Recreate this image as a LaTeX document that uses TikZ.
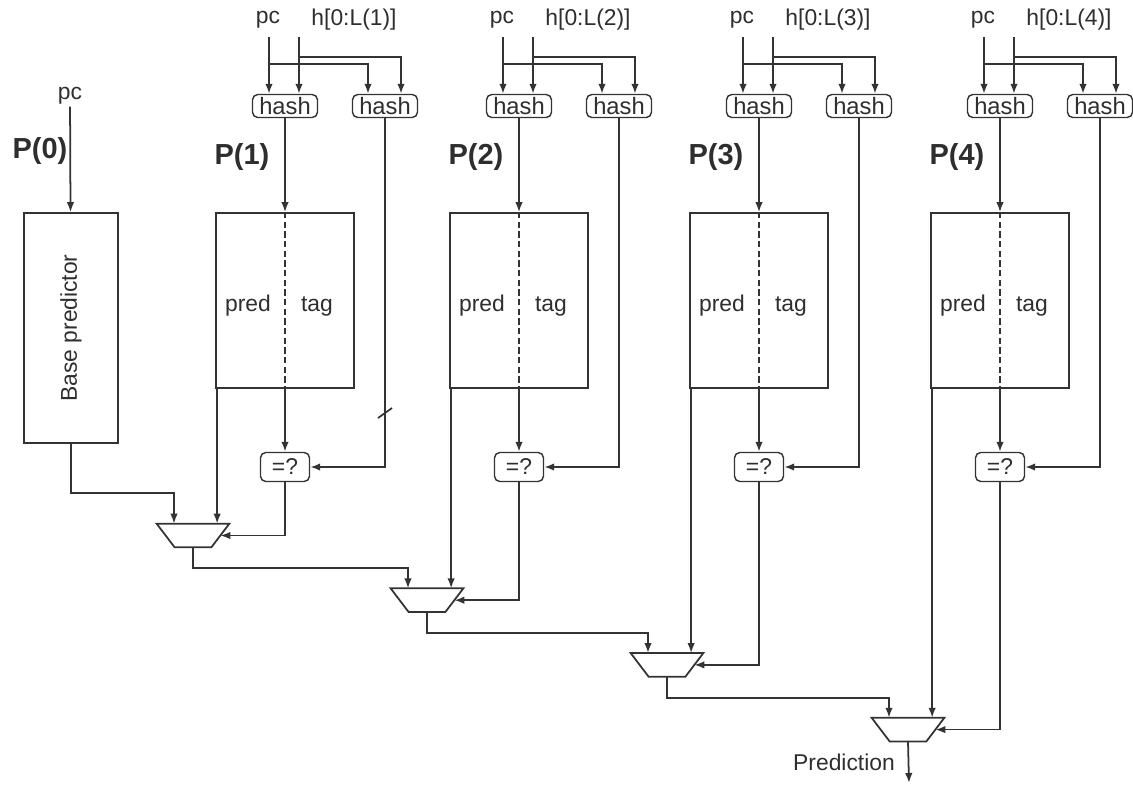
\documentclass[tikz,border=0pt]{standalone}
\usepackage{fontspec}
\setmainfont{Liberation Sans}
\usetikzlibrary{arrows.meta,positioning,calc}
\definecolor{ink}{HTML}{333333}
\definecolor{txt}{HTML}{2E2E2E}
\tikzset{
  wire/.style={draw=ink,line width=1pt},
  arr/.style={wire,-{Latex[length=2mm,width=1.5mm]}},
  tbl/.style={draw=ink,line width=1pt,minimum width=2.76cm,minimum height=3.5cm,inner sep=0pt},
  hashbox/.style={draw=ink,line width=0.8pt,rounded corners=3pt,minimum width=1.3cm,
    minimum height=0.46cm,inner sep=0pt,text=txt,font=\fontsize{13.5}{14}\selectfont},
  cmpbox/.style={hashbox,minimum width=0.98cm,minimum height=0.58cm,font=\fontsize{13}{13}\selectfont},
  mux/.style={minimum width=1.44cm,minimum height=0.46cm,inner sep=0pt},
  lbl/.style={text=txt,inner sep=1pt,font=\fontsize{13}{15}\selectfont},
  plbl/.style={text=txt,inner sep=0pt,font=\fontsize{16.5}{18}\selectfont\bfseries},
}
\begin{document}
\begin{tikzpicture}[x=0.02cm,y=-0.02cm]
\useasboundingbox (0,0) rectangle (1133,785);
% base predictor
\node[lbl] (pc0) at (70,96) {pc};
\node[plbl] (p0) at (40,151) {P(0)};
\node[tbl,minimum width=1.88cm,minimum height=4.6cm] (base) at (71,328) {};
\node[lbl,rotate=90] at (base) {Base predictor};
\draw[arr] (pc0) -- (base);

% tagged tables
\foreach \i/\cx in {1/285,2/519,3/759,4/1000}{
  \pgfmathsetmacro\my{535.5+64.7*(\i-1)}
  \node[lbl] (pc\i) at (\cx-17,20) {pc};
  \node[lbl] (hl\i) at (\cx+69,20) {h[0:L(\i)]};
  \node[hashbox] (ha\i) at (\cx,106) {hash};
  \node[hashbox] (hb\i) at (\cx+100,106) {hash};
  \node[plbl] (p\i) at (\cx-43,157) {P(\i)};
  \node[tbl] (tb\i) at (\cx,300.5) {};
  \node[lbl] at (\cx-37,306) {pred};
  \node[lbl] at (\cx+32,306) {tag};
  \node[cmpbox] (eq\i) at (\cx,467) {=?};
  \node[mux] (mx\i) at (\cx-92,\my) {};
  \draw[wire] (mx\i.north west) -- (mx\i.north east) -- ($(mx\i.south east)+(-18,0)$)
    -- ($(mx\i.south west)+(18,0)$) -- cycle;
  % pc and history into both hashes
  \coordinate (pt\i) at (\cx-16,37);
  \coordinate (ht\i) at (\cx+14,37);
  \draw[arr] (pt\i) -- (pt\i |- ha\i.north);
  \draw[arr] (ht\i) -- (ht\i |- ha\i.north);
  \draw[arr] ($(pt\i)+(0,27)$) -| ($(hb\i.north)+(-17,0)$);
  \draw[arr] ($(ht\i)+(0,20)$) -| ($(hb\i.north)+(16,0)$);
  % index, tag check, prediction
  \draw[arr] (ha\i) -- (tb\i.north);
  \draw[wire,dash pattern=on 3.5pt off 2pt] (tb\i.north) -- (tb\i.south);
  \draw[arr] (tb\i.south) -- (eq\i);
  \draw[arr] (hb\i) |- (eq\i);
  \coordinate (pd\i) at ($(tb\i.south west)+(2,0)$);
  \draw[arr] (pd\i) -- (pd\i |- mx\i.north);
  \draw[arr] (eq\i) |- ($(mx\i.east)+(-9,0)$);
}

% mux chain
\draw[arr] (base.south) -- ++(0,49) -| ($(mx1.north)+(-19,0)$);
\foreach \i/\j in {1/2,2/3,3/4}
  \draw[arr] (mx\i.south) -- ++(0,21) -| ($(mx\j.north)+(-19,0)$);
\coordinate (out) at (909,783);
\draw[arr] (mx4.south) -- (out);
\node[lbl] (predlbl) at (844,762) {Prediction};
\coordinate (cut) at (385,413);
\draw[wire] ($(cut)+(-7,5)$) -- ($(cut)+(7,-5)$);
\end{tikzpicture}
\end{document}
